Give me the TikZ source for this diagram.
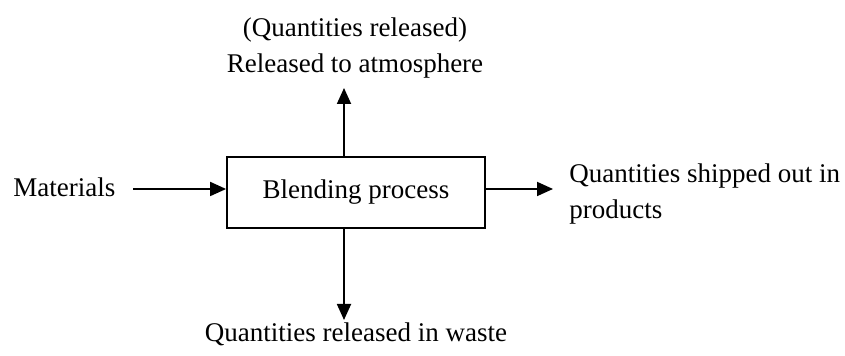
\documentclass[tikz,border=0pt]{standalone}
\usepackage{fontspec}
\setmainfont{Liberation Serif}
\usetikzlibrary{arrows.meta,positioning}

\begin{document}
\begin{tikzpicture}[
    x=0.5pt, y=-0.5pt,
    font=\fontsize{13.5pt}{18pt}\selectfont,
    process/.style={rectangle, draw, line width=0.9pt, minimum width=129pt, minimum height=35.5pt},
    label/.style={inner sep=0pt},
    arrow/.style={-{Triangle[length=8pt,width=7pt]}, line width=0.9pt}
]
    \useasboundingbox (0,0) rectangle (845,356);

    % Process box
    \node[process] (blend) at (356,192.5) {Blending process};

    % Input
    \node[label, anchor=base west] (materials) at (13,197) {Materials};

    % Outputs
    \node[label, anchor=base, align=center] (atmos) at (355,73) {(Quantities released)\\Released to atmosphere};
    \node[label, anchor=base west, align=left] (shipped) at (569,219) {Quantities shipped out in\\products};
    \node[label, anchor=base] (waste) at (356,342) {Quantities released in waste};

    % Arrow ends
    \coordinate (instart) at (133,189);
    \coordinate (outend) at (553,189);
    \coordinate (upend) at (344,88);
    \coordinate (downend) at (344,320);

    % Arrows
    \draw[arrow] (instart) -- (instart -| blend.west);
    \draw[arrow] (blend.east |- outend) -- (outend);
    \draw[arrow] (blend.north -| upend) -- (upend);
    \draw[arrow] (blend.south -| downend) -- (downend);
\end{tikzpicture}
\end{document}
